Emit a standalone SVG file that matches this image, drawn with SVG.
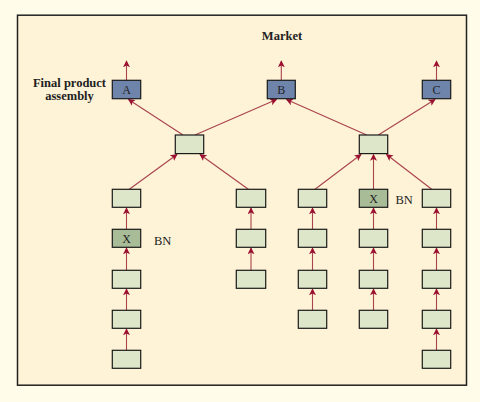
<svg xmlns="http://www.w3.org/2000/svg" width="480" height="402" viewBox="0 0 480 402">
<defs>
<style>
.bg{fill:#FFFCEA}
.frame{fill:#FEF3D6;stroke:#222;stroke-width:1.5}
.prod{fill:#6F84AA;stroke:#1a1a1a;stroke-width:1.2}
.part{fill:#DEE6C9;stroke:#1a1a1a;stroke-width:1.2}
.bn{fill:#A8BC97;stroke:#1a1a1a;stroke-width:1.2}
.lbl{font-family:"Liberation Serif","Times New Roman",serif;font-size:12px;fill:#222;text-anchor:middle}
.bold{font-family:"Liberation Serif","Times New Roman",serif;font-size:12.5px;font-weight:bold;fill:#222;text-anchor:middle}
.side{font-family:"Liberation Serif","Times New Roman",serif;font-size:12.5px;fill:#222}
.conn line{stroke:#A8424E;stroke-width:1.1;fill:none;marker-end:url(#ah)}
</style>
<marker id="ah" viewBox="0 0 10 10" refX="9" refY="5" markerWidth="7" markerHeight="7" markerUnits="userSpaceOnUse" orient="auto">
<path d="M0,0 L10,5 L0,10 L2.5,5 z" fill="#9B1030"/>
</marker>
</defs>
<rect class="bg" x="0" y="0" width="480" height="402"/>
<rect class="frame" x="17.5" y="15.2" width="449" height="370"/>
<text class="bold" x="282" y="40">Market</text>
<text class="bold" x="69.5" y="87" font-size="12">Final product</text>
<text class="bold" x="69.5" y="100" font-size="12">assembly</text>

<g id="connectors" class="conn">
<line x1="126.5" y1="80" x2="126.5" y2="61"/>
<line x1="281.3" y1="80" x2="281.3" y2="61"/>
<line x1="436.5" y1="80" x2="436.5" y2="61"/>
<line x1="183" y1="135" x2="128.5" y2="99.5"/>
<line x1="195" y1="135" x2="276.5" y2="99.5"/>
<line x1="366.7" y1="135" x2="286.5" y2="99.5"/>
<line x1="378.3" y1="135" x2="435" y2="99.5"/>
<line x1="129.3" y1="189.3" x2="177" y2="154.5"/>
<line x1="248.3" y1="189.3" x2="200" y2="154.5"/>
<line x1="315" y1="189.3" x2="361" y2="154.5"/>
<line x1="373.5" y1="189.3" x2="373.5" y2="154.5"/>
<line x1="431.7" y1="189.3" x2="386.5" y2="154.5"/>
<line x1="126.5" y1="229.3" x2="126.5" y2="208"/>
<line x1="251" y1="229.3" x2="251" y2="208"/>
<line x1="312.5" y1="229.3" x2="312.5" y2="208"/>
<line x1="373.5" y1="229.3" x2="373.5" y2="208"/>
<line x1="436.5" y1="229.3" x2="436.5" y2="208"/>
<line x1="126.5" y1="270.3" x2="126.5" y2="248"/>
<line x1="251" y1="270.3" x2="251" y2="248"/>
<line x1="312.5" y1="270.3" x2="312.5" y2="248"/>
<line x1="373.5" y1="270.3" x2="373.5" y2="248"/>
<line x1="436.5" y1="270.3" x2="436.5" y2="248"/>
<line x1="126.5" y1="310.3" x2="126.5" y2="289"/>
<line x1="312.5" y1="310.3" x2="312.5" y2="289"/>
<line x1="373.5" y1="310.3" x2="373.5" y2="289"/>
<line x1="436.5" y1="310.3" x2="436.5" y2="289"/>
<line x1="126.5" y1="350.3" x2="126.5" y2="329"/>
<line x1="436.5" y1="350.3" x2="436.5" y2="329"/>
</g>

<g id="A"><rect class="prod" x="112.3" y="80.3" width="28.4" height="18.4"/><text class="lbl" x="126.5" y="93.8">A</text></g>
<g id="B"><rect class="prod" x="267.3" y="80.3" width="28" height="18.4"/><text class="lbl" x="281.3" y="93.8">B</text></g>
<g id="C"><rect class="prod" x="422.3" y="80.3" width="28.4" height="18.4"/><text class="lbl" x="436.5" y="93.8">C</text></g>

<g id="sub1"><rect class="part" x="175.3" y="135" width="28.4" height="18.6"/></g>
<g id="sub2"><rect class="part" x="359.3" y="135" width="28.4" height="18.6"/></g>

<g id="p3a"><rect class="part" x="112.3" y="189.3" width="28.4" height="18"/></g>
<g id="p3b"><rect class="part" x="236.3" y="189.3" width="29.4" height="18"/></g>
<g id="p3c"><rect class="part" x="298.3" y="189.3" width="28.4" height="18"/></g>
<g id="p3d"><rect class="bn" x="359.3" y="189.3" width="28.4" height="18"/><text class="lbl" x="373.5" y="202.8">X</text></g>
<text class="side" x="395.5" y="203.5">BN</text>
<g id="p3e"><rect class="part" x="422.3" y="189.3" width="28.4" height="18"/></g>

<g id="p4a"><rect class="bn" x="112.3" y="229.3" width="28.4" height="18"/><text class="lbl" x="126.5" y="242.8">X</text></g>
<text class="side" x="154" y="244.5">BN</text>
<g id="p4b"><rect class="part" x="236.3" y="229.3" width="29.4" height="18"/></g>
<g id="p4c"><rect class="part" x="298.3" y="229.3" width="28.4" height="18"/></g>
<g id="p4d"><rect class="part" x="359.3" y="229.3" width="28.4" height="18"/></g>
<g id="p4e"><rect class="part" x="422.3" y="229.3" width="28.4" height="18"/></g>

<g id="p5a"><rect class="part" x="112.3" y="270.3" width="28.4" height="18"/></g>
<g id="p5b"><rect class="part" x="236.3" y="270.3" width="29.4" height="18"/></g>
<g id="p5c"><rect class="part" x="298.3" y="270.3" width="28.4" height="18"/></g>
<g id="p5d"><rect class="part" x="359.3" y="270.3" width="28.4" height="18"/></g>
<g id="p5e"><rect class="part" x="422.3" y="270.3" width="28.4" height="18"/></g>

<g id="p6a"><rect class="part" x="112.3" y="310.3" width="28.4" height="18"/></g>
<g id="p6c"><rect class="part" x="298.3" y="310.3" width="28.4" height="18"/></g>
<g id="p6d"><rect class="part" x="359.3" y="310.3" width="28.4" height="18"/></g>
<g id="p6e"><rect class="part" x="422.3" y="310.3" width="28.4" height="18"/></g>

<g id="p7a"><rect class="part" x="112.3" y="350.3" width="28.4" height="18"/></g>
<g id="p7e"><rect class="part" x="422.3" y="350.3" width="28.4" height="18"/></g>
</svg>
